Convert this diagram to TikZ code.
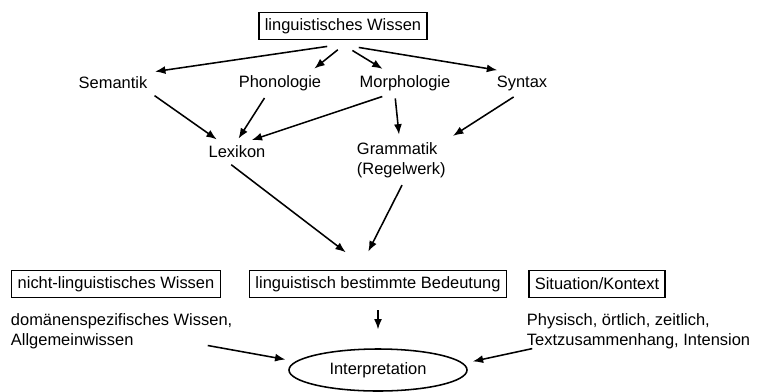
\documentclass[tikz,border=0pt]{standalone}
\usepackage{fontspec}
\setmainfont{Liberation Sans}
\usetikzlibrary{arrows.meta,shapes.geometric}

\begin{document}
\begin{tikzpicture}[x=0.025cm,y=-0.025cm,
  font=\fontsize{11.7}{14.2}\selectfont,
  box/.style={draw,line width=1.1pt,minimum height=0.675cm,inner xsep=0.15cm},
  oval/.style={draw,ellipse,line width=1.1pt,minimum width=4.45cm,minimum height=1.05cm},
  arr/.style={-{Latex[length=2.6mm,width=2mm]},line width=1.1pt,shorten <=2pt,shorten >=2pt}]
  \useasboundingbox (0,0) rectangle (758,391);
  % top: the kinds of linguistic knowledge
  \node[box] (lw) at (343,26) {linguistisches Wissen};
  \node (sem) at (113,83) {Semantik};
  \node (pho) at (280,83) {Phonologie};
  \node (mor) at (405,83) {Morphologie};
  \node (syn) at (522,83) {Syntax};
  \draw[arr] (330,46) -- (sem.north east);
  \draw[arr] (340,48) -- ([xshift=-0.35cm]pho.north east);
  \draw[arr] (350,49) -- ([xshift=-0.5cm]mor.north);
  \draw[arr] (356,47) -- ([xshift=-0.55cm]syn.north);
  % lexicon and grammar
  \node (lex) at (237,152) {Lexikon};
  \node[align=left,anchor=west] (gra) at (352,160) {Grammatik\\(Regelwerk)};
  \draw[arr] (sem.south east) -- ([xshift=-0.45cm]lex.north);
  \draw[arr] ([xshift=-0.35cm]pho.south) -- (lex.north);
  \draw[arr] ([xshift=-0.5cm]mor.south) -- ([xshift=0.3cm]lex.north);
  \draw[arr] ([xshift=-0.25cm]mor.south) -- ([xshift=-0.05cm]gra.north);
  \draw[arr] ([xshift=-0.15cm]syn.south) -- (gra.north east);
  % bottom row
  \node[box] (nlw) at (116,284) {nicht-linguistisches Wissen};
  \node[box] (bed) at (378,284) {linguistisch bestimmte Bedeutung};
  \node[box] (sit) at (597,284) {Situation/Kontext};
  \coordinate (tl) at (348,254);
  \coordinate (tg) at (367,254);
  \draw[arr] ([xshift=-0.2cm]lex.south) -- (tl);
  \draw[arr] ([xshift=0.05cm]gra.south) -- (tg);
  \node[align=left,anchor=west] (dom) at (6,331) {domänenspezifisches Wissen,\\Allgemeinwissen};
  \node[align=left,anchor=west] (phy) at (522,331) {Physisch, örtlich, zeitlich,\\Textzusammenhang, Intension};
  \node[oval] (int) at (378,370) {Interpretation};
  \draw[arr,shorten <=0.3cm] (bed.south) -- ([yshift=0.4cm]int.north);
  \draw[arr] (205,345) -- (int.west |- 0,360);
  \draw[arr] (535,348) -- (470,362);
\end{tikzpicture}
\end{document}
